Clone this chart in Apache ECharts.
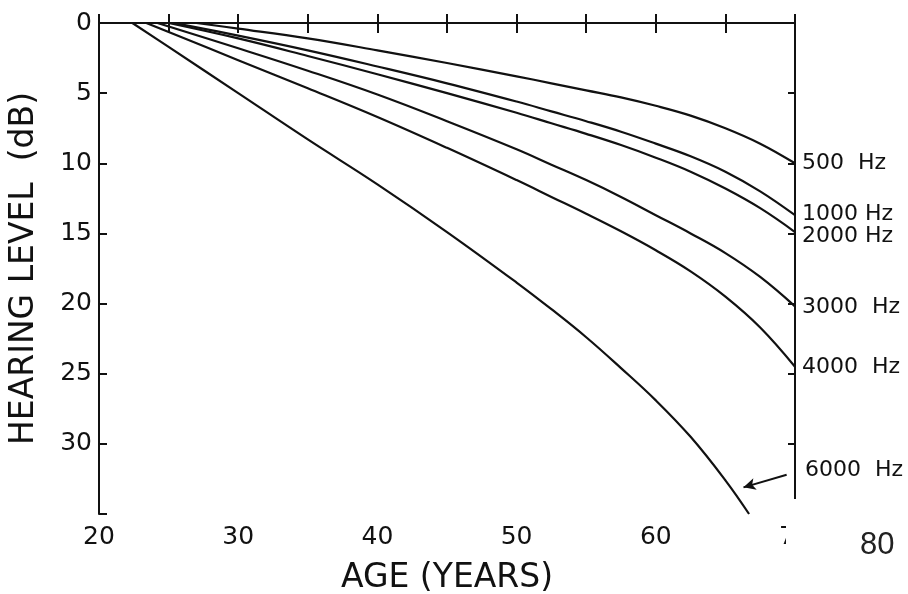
<!DOCTYPE html>
<html>
<head>
<meta charset="utf-8">
<script src="https://cdn.jsdelivr.net/npm/echarts@6/dist/echarts.min.js"></script>
<style>
  html, body { margin: 0; padding: 0; background: #fff; }
  #chart { width: 908px; height: 594px; }
</style>
</head>
<body>
<div id="chart"></div>
<script>
// Age (years) and hearing level (dB) for each test frequency
const age500  = [27.0, 30.0, 35.0, 40.0, 45.0, 50.0, 52.5, 55.0, 57.5, 60.0, 62.5, 65.0, 67.5, 70.0];
const hl500   = [0.0,  0.4,  1.1,  1.95, 2.85, 3.8,  4.3,  4.8,  5.3,  5.9,  6.6,  7.5,  8.6,  10.0];

const age1000 = [25.4, 30.0, 35.0, 40.0, 45.0, 50.0, 52.5, 55.0, 57.5, 60.0, 62.5, 65.0, 67.5, 70.0];
const hl1000  = [0.0,  0.9,  1.95, 3.1,  4.3,  5.6,  6.3,  7.0,  7.75, 8.6,  9.5,  10.6, 12.0, 13.7];

const age2000 = [25.0, 30.0, 35.0, 40.0, 45.0, 50.0, 52.5, 55.0, 57.5, 60.0, 62.5, 65.0, 67.5, 70.0];
const hl2000  = [0.0,  1.1,  2.35, 3.65, 5.0,  6.4,  7.15, 7.9,  8.7,  9.6,  10.6, 11.8, 13.2, 14.9];

const age3000 = [24.2, 30.0, 35.0, 40.0, 45.0, 50.0, 52.5, 55.0, 57.5, 60.0, 62.5, 65.0, 67.5, 70.0];
const hl3000  = [0.0,  1.8,  3.4,  5.1,  7.0,  9.0,  10.1, 11.2, 12.4, 13.7, 15.0, 16.4, 18.1, 20.2];

const age4000 = [23.4, 30.0, 35.0, 40.0, 45.0, 50.0, 52.5, 55.0, 57.5, 60.0, 62.5, 65.0, 67.5, 70.0];
const hl4000  = [0.0,  2.65, 4.65, 6.7,  8.9,  11.2, 12.4, 13.6, 14.85, 16.2, 17.7, 19.5, 21.7, 24.5];

const age6000 = [22.4, 25.0, 30.0, 35.0, 40.0, 45.0, 50.0, 52.5, 55.0, 57.5, 60.0, 62.5, 65.0, 66.7];
const hl6000  = [0.0,  1.7,  5.0,  8.3,  11.5, 14.9, 18.5, 20.4, 22.4, 24.6, 26.9, 29.5, 32.6, 35.0];

const freqLabels = ['500  Hz', '1000 Hz', '2000 Hz', '3000  Hz', '4000  Hz', '6000  Hz'];
const ageTicks = [20, 30, 40, 50, 60, 70];
const levelTicks = [0, 5, 10, 15, 20, 25, 30];

// Pointer from the 6000 Hz caption to its curve (age, dB)
const arrow6000 = [[69.4, 32.2], [66.3, 33.1]];

const INK = '#111';
const FONT = 'DejaVu Sans';

function pairs(xs, ys) { return xs.map((x, i) => [x, ys[i]]); }

const curves = [
  pairs(age500, hl500), pairs(age1000, hl1000), pairs(age2000, hl2000),
  pairs(age3000, hl3000), pairs(age4000, hl4000), pairs(age6000, hl6000)
];

// small vertical nudges so the two close captions do not collide
const labelNudge = [0, -1, 4, 1, 1, 0];

const series = curves.map((data, i) => {
  const s = {
    type: 'line',
    name: freqLabels[i],
    data: data,
    smooth: 0.4,
    showSymbol: false,
    symbol: 'none',
    lineStyle: { color: INK, width: 2.2 },
    xAxisIndex: 0,
    yAxisIndex: 0,
    endLabel: {
      show: i < 5,
      formatter: freqLabels[i],
      color: INK,
      fontFamily: FONT,
      fontSize: 22,
      distance: 7,
      offset: [0, labelNudge[i]]
    }
  };
  if (i === 5) {
    s.markLine = {
      silent: true,
      symbol: ['none', 'arrow'],
      symbolSize: [9, 12],
      label: { show: false },
      lineStyle: { color: INK, width: 2, type: 'solid' },
      data: [[{ coord: arrow6000[0] }, { coord: arrow6000[1] }]]
    };
  }
  return s;
});

const axisLine = { show: true, lineStyle: { color: INK, width: 2 } };
const tickStyle = { color: INK, width: 2 };

const option = {
  animation: false,
  backgroundColor: '#fff',
  grid: { left: 99, right: 113, top: 23, bottom: 80, containLabel: false, outerBoundsMode: 'none' },
  xAxis: [
    {
      type: 'value', position: 'bottom', min: 20, max: 70, interval: 5,
      axisLine: axisLine,
      axisTick: { inside: true, length: 9, lineStyle: tickStyle },
      axisLabel: {
        color: INK, fontFamily: FONT, fontSize: 25, margin: 11,
        formatter: v => (ageTicks.indexOf(v) >= 0 ? String(v) : '')
      },
      splitLine: { show: false },
      name: 'AGE (YEARS)', nameLocation: 'middle', nameGap: 48,
      nameTextStyle: { color: INK, fontFamily: FONT, fontSize: 33 }
    },
    {
      type: 'value', position: 'top', min: 20, max: 70, interval: 5,
      axisLine: axisLine,
      axisTick: { inside: true, length: 10, lineStyle: tickStyle },
      axisLabel: { show: false },
      splitLine: { show: false }
    }
  ],
  yAxis: [
    {
      type: 'value', position: 'left', inverse: true, min: 0, max: 35, interval: 5,
      axisLine: axisLine,
      axisTick: { inside: true, length: 8, lineStyle: tickStyle },
      axisLabel: {
        color: INK, fontFamily: FONT, fontSize: 25, margin: 7,
        formatter: v => (levelTicks.indexOf(v) >= 0 ? String(v) : '')
      },
      splitLine: { show: false },
      name: 'HEARING LEVEL  (dB)', nameLocation: 'middle', nameRotate: 90, nameGap: 58,
      nameTextStyle: { color: INK, fontFamily: FONT, fontSize: 33 }
    },
    {
      type: 'value', position: 'right', inverse: true, min: 0, max: 35, interval: 5,
      axisLine: axisLine,
      axisTick: { inside: true, length: 7, lineStyle: tickStyle },
      axisLabel: { show: false },
      splitLine: { show: false }
    }
  ],
  series: series,
  graphic: [
    {
      type: 'text', left: 805, top: 459, z: 50,
      style: { text: freqLabels[5], fill: INK, font: '22px "DejaVu Sans"' }
    },
    // pasted-over corner of the figure with its replacement tick value
    {
      type: 'rect', left: 786, top: 499, z: 90,
      shape: { width: 122, height: 95 },
      style: { fill: '#fff' }
    },
    {
      type: 'text', left: 860, top: 530, z: 100,
      style: { text: '80', fill: '#222', font: '31px "Liberation Sans"' }
    }
  ]
};

const chart = echarts.init(document.getElementById('chart'), null, { renderer: 'canvas' });
chart.setOption(option);
</script>
</body>
</html>
